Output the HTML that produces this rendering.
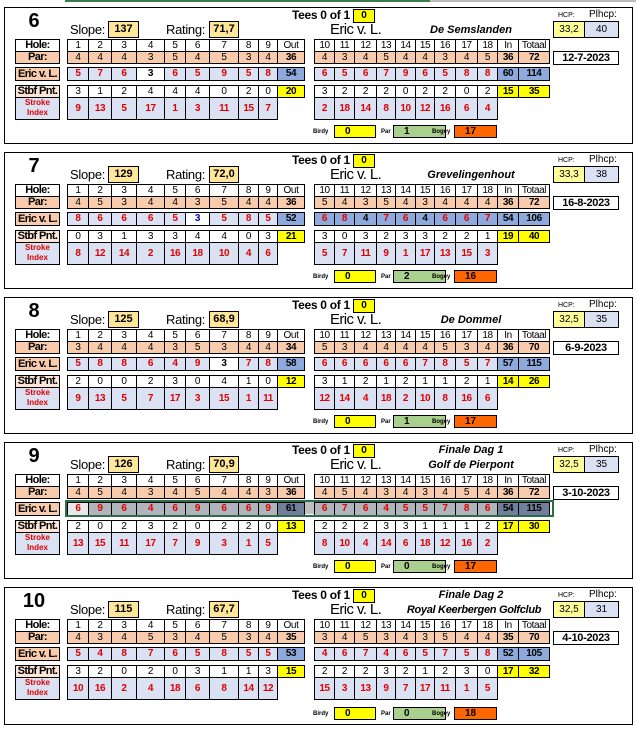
<!DOCTYPE html>
<html><head><meta charset="utf-8"><style>
body{margin:0;width:636px;height:734px;background:#fff;position:relative;overflow:hidden;font-family:"Liberation Sans",sans-serif;}
.b{position:absolute;left:4px;width:627px;height:135px;border:1px solid #000;}
.a{position:absolute;white-space:nowrap}
table{position:absolute;border-collapse:collapse;table-layout:fixed;font-size:10px;letter-spacing:-0.4px}
td{border:1px solid #000;text-align:center;padding:0;height:11px;line-height:11px;overflow:hidden;white-space:nowrap}
.p td{background:#f8cbad}
.e td{background:#d9e1f2;color:#e00000;font-weight:bold;height:12px;line-height:12px;font-size:10px}
.e.dk td{background:#8ea9db}
.e.gr td{background:#b0b4bc}
.s td{background:#fff}
.i td{background:#d9e1f2;color:#e00000;font-weight:bold;height:21px;font-size:10px}
td.w{background:#fff!important;color:#000!important}
td.bl{background:#fff!important;color:#0000cc!important}
td.k{color:#000!important}
td.t{background:#8ea9db!important;color:#000!important;font-weight:bold}
td.y{background:#ffff00!important;color:#000!important;font-weight:bold}
td.bo{font-weight:bold}
td.n{border:none;background:none!important}
.lab{position:absolute;left:10px;width:43px;border:1px solid #000;text-align:center;font-weight:bold;font-size:11px;letter-spacing:-0.6px;white-space:nowrap;overflow:hidden}
.num{left:14px;top:2px;width:30px;text-align:center;font-size:20px;font-weight:bold}
.sl{font-size:13px;top:13px;line-height:17px;letter-spacing:-0.3px}
.bx{border:1px solid #000;background:#ffe699;text-align:center;font-size:11px;font-weight:bold;height:15px;line-height:15px}
.tees{left:287px;top:1px;font-size:12px;font-weight:bold;line-height:13px;letter-spacing:-0.3px}
.zero{left:348px;top:1px;width:20px;height:12px;line-height:12px;background:#ff0;border:1px solid #000;text-align:center;font-size:10px;font-weight:bold}
.nm{left:325px;top:13px;font-size:15px;line-height:17px;letter-spacing:-0.6px}
.cr{font-style:italic;font-weight:bold;font-size:11px;width:200px;text-align:center;left:366px;line-height:14px}
.hl{font-size:7px}
.hcp{left:548px;top:13px;width:30px;height:15px;line-height:15px;border:1px solid #000;background:#ffff99;text-align:center;font-size:10px}
.pl{left:579px;top:13px;width:33px;height:15px;line-height:15px;border:1px solid #000;background:#d9e1f2;text-align:center;font-size:10px}
.dt{left:548px;top:43px;width:64px;height:12px;line-height:12px;border:1px solid #000;text-align:center;font-size:11px;font-weight:bold;letter-spacing:-0.3px}
.sm{font-size:6px;font-weight:bold;top:121px}
.cb{top:117px;height:11px;line-height:11px;border:1px solid #000;font-size:10px;font-weight:bold;padding-left:10px;box-sizing:content-box}
</style></head><body>
<div class="a" style="left:65px;top:0;width:365px;height:2px;background:#3b7a4a"></div>
<div class="a" style="left:430px;top:0;width:206px;height:2px;background:#bbb"></div>

<!-- BLOCK 6 -->
<div class="b" style="top:7px">
<div class="a num">6</div>
<div class="a sl" style="left:65px">Slope:</div><div class="a bx" style="left:103px;top:13px;width:29px">137</div>
<div class="a sl" style="left:161px">Rating:</div><div class="a bx" style="left:204px;top:13px;width:28px">71,7</div>
<div class="a tees">Tees 0 of 1</div><div class="a zero">0</div>
<div class="a nm">Eric v. L.</div>
<div class="a cr" style="top:15px">De Semslanden</div>
<div class="a hl" style="left:553px;top:4px">HCP:</div><div class="a" style="left:584px;top:1px;font-size:10px">Plhcp:</div>
<div class="a hcp">33,2</div><div class="a pl">40</div><div class="a dt">12-7-2023</div>
<div class="lab" style="top:31px;height:11px;line-height:11px">Hole:</div>
<div class="lab" style="top:43px;height:11px;line-height:11px;background:#f8cbad">Par:</div>
<div class="lab" style="top:59px;height:12px;line-height:12px;background:#f8cbad">Eric v. L.</div>
<div class="lab" style="top:77px;height:11px;line-height:11px;background:#fbe5d6">Stbf Pnt.</div>
<div class="lab" style="top:89px;height:21px;line-height:10px;background:#d9e1f2;color:#e00000;font-size:8px;letter-spacing:0">Stroke<br>Index</div>
<table style="left:62px;top:31px;width:237px"><colgroup><col style="width:21px"><col style="width:23px"><col style="width:25px"><col style="width:28px"><col style="width:21px"><col style="width:24px"><col style="width:29px"><col style="width:20px"><col style="width:19px"><col style="width:27px"></colgroup>
<tr><td>1</td><td>2</td><td>3</td><td>4</td><td>5</td><td>6</td><td>7</td><td>8</td><td>9</td><td>Out</td></tr>
<tr class="p"><td>4</td><td>4</td><td>4</td><td>3</td><td>5</td><td>4</td><td>5</td><td>3</td><td>4</td><td class="bo">36</td></tr></table>
<table style="left:309px;top:31px;width:235px"><colgroup><col style="width:20px"><col style="width:20px"><col style="width:22px"><col style="width:19px"><col style="width:20px"><col style="width:19px"><col style="width:21px"><col style="width:22px"><col style="width:20px"><col style="width:21px"><col style="width:31px"></colgroup>
<tr><td>10</td><td>11</td><td>12</td><td>13</td><td>14</td><td>15</td><td>16</td><td>17</td><td>18</td><td>In</td><td>Totaal</td></tr>
<tr class="p"><td>4</td><td>3</td><td>4</td><td>5</td><td>4</td><td>4</td><td>3</td><td>4</td><td>5</td><td class="bo">36</td><td class="bo">72</td></tr></table>
<table class="e" style="left:62px;top:59px;width:237px"><colgroup><col style="width:21px"><col style="width:23px"><col style="width:25px"><col style="width:28px"><col style="width:21px"><col style="width:24px"><col style="width:29px"><col style="width:20px"><col style="width:19px"><col style="width:27px"></colgroup>
<tr><td>5</td><td>7</td><td>6</td><td class="w">3</td><td>6</td><td>5</td><td>9</td><td>5</td><td>8</td><td class="t">54</td></tr></table>
<table class="e" style="left:309px;top:59px;width:235px"><colgroup><col style="width:20px"><col style="width:20px"><col style="width:22px"><col style="width:19px"><col style="width:20px"><col style="width:19px"><col style="width:21px"><col style="width:22px"><col style="width:20px"><col style="width:21px"><col style="width:31px"></colgroup>
<tr><td>6</td><td>5</td><td>6</td><td>7</td><td>9</td><td>6</td><td>5</td><td>8</td><td>8</td><td class="t">60</td><td class="t">114</td></tr></table>
<table style="left:62px;top:77px;width:237px"><colgroup><col style="width:21px"><col style="width:23px"><col style="width:25px"><col style="width:28px"><col style="width:21px"><col style="width:24px"><col style="width:29px"><col style="width:20px"><col style="width:19px"><col style="width:27px"></colgroup>
<tr class="s"><td>3</td><td>1</td><td>2</td><td>4</td><td>4</td><td>4</td><td>0</td><td>2</td><td>0</td><td class="y">20</td></tr>
<tr class="i"><td>9</td><td>13</td><td>5</td><td>17</td><td>1</td><td>3</td><td>11</td><td>15</td><td>7</td><td class="n"></td></tr></table>
<table style="left:309px;top:77px;width:235px"><colgroup><col style="width:20px"><col style="width:20px"><col style="width:22px"><col style="width:19px"><col style="width:20px"><col style="width:19px"><col style="width:21px"><col style="width:22px"><col style="width:20px"><col style="width:21px"><col style="width:31px"></colgroup>
<tr class="s"><td>3</td><td>2</td><td>2</td><td>2</td><td>0</td><td>2</td><td>2</td><td>0</td><td>2</td><td class="y">15</td><td class="y">35</td></tr>
<tr class="i"><td>2</td><td>18</td><td>14</td><td>8</td><td>10</td><td>12</td><td>16</td><td>6</td><td>4</td><td class="n"></td><td class="n"></td></tr></table>
<div class="a sm" style="left:308px">Birdy</div><div class="a cb" style="left:329px;width:30px;background:#ff0">0</div>
<div class="a sm" style="left:376px">Par</div><div class="a cb" style="left:388px;width:41px;background:#a9d08e">1</div>
<div class="a sm" style="left:427px">Bogey</div><div class="a cb" style="left:449px;width:31px;background:#ff6600">17</div>
</div>

<!-- BLOCK 7 -->
<div class="b" style="top:152px">
<div class="a num">7</div>
<div class="a sl" style="left:65px">Slope:</div><div class="a bx" style="left:103px;top:13px;width:29px">129</div>
<div class="a sl" style="left:161px">Rating:</div><div class="a bx" style="left:204px;top:13px;width:28px">72,0</div>
<div class="a tees">Tees 0 of 1</div><div class="a zero">0</div>
<div class="a nm">Eric v. L.</div>
<div class="a cr" style="top:15px">Grevelingenhout</div>
<div class="a hl" style="left:553px;top:4px">HCP:</div><div class="a" style="left:584px;top:1px;font-size:10px">Plhcp:</div>
<div class="a hcp">33,3</div><div class="a pl">38</div><div class="a dt">16-8-2023</div>
<div class="lab" style="top:31px;height:11px;line-height:11px">Hole:</div>
<div class="lab" style="top:43px;height:11px;line-height:11px;background:#f8cbad">Par:</div>
<div class="lab" style="top:59px;height:12px;line-height:12px;background:#f8cbad">Eric v. L.</div>
<div class="lab" style="top:77px;height:11px;line-height:11px;background:#fbe5d6">Stbf Pnt.</div>
<div class="lab" style="top:89px;height:21px;line-height:10px;background:#d9e1f2;color:#e00000;font-size:8px;letter-spacing:0">Stroke<br>Index</div>
<table style="left:62px;top:31px;width:237px"><colgroup><col style="width:21px"><col style="width:23px"><col style="width:25px"><col style="width:28px"><col style="width:21px"><col style="width:24px"><col style="width:29px"><col style="width:20px"><col style="width:19px"><col style="width:27px"></colgroup>
<tr><td>1</td><td>2</td><td>3</td><td>4</td><td>5</td><td>6</td><td>7</td><td>8</td><td>9</td><td>Out</td></tr>
<tr class="p"><td>4</td><td>5</td><td>3</td><td>4</td><td>4</td><td>3</td><td>5</td><td>4</td><td>4</td><td class="bo">36</td></tr></table>
<table style="left:309px;top:31px;width:235px"><colgroup><col style="width:20px"><col style="width:20px"><col style="width:22px"><col style="width:19px"><col style="width:20px"><col style="width:19px"><col style="width:21px"><col style="width:22px"><col style="width:20px"><col style="width:21px"><col style="width:31px"></colgroup>
<tr><td>10</td><td>11</td><td>12</td><td>13</td><td>14</td><td>15</td><td>16</td><td>17</td><td>18</td><td>In</td><td>Totaal</td></tr>
<tr class="p"><td>5</td><td>4</td><td>3</td><td>5</td><td>4</td><td>3</td><td>4</td><td>4</td><td>4</td><td class="bo">36</td><td class="bo">72</td></tr></table>
<table class="e" style="left:62px;top:59px;width:237px"><colgroup><col style="width:21px"><col style="width:23px"><col style="width:25px"><col style="width:28px"><col style="width:21px"><col style="width:24px"><col style="width:29px"><col style="width:20px"><col style="width:19px"><col style="width:27px"></colgroup>
<tr><td>8</td><td>6</td><td>6</td><td>6</td><td>5</td><td class="bl">3</td><td>5</td><td>8</td><td>5</td><td class="t">52</td></tr></table>
<table class="e dk" style="left:309px;top:59px;width:235px"><colgroup><col style="width:20px"><col style="width:20px"><col style="width:22px"><col style="width:19px"><col style="width:20px"><col style="width:19px"><col style="width:21px"><col style="width:22px"><col style="width:20px"><col style="width:21px"><col style="width:31px"></colgroup>
<tr><td>6</td><td>8</td><td class="k">4</td><td>7</td><td>6</td><td class="k">4</td><td>6</td><td>6</td><td>7</td><td class="t">54</td><td class="t">106</td></tr></table>
<table style="left:62px;top:77px;width:237px"><colgroup><col style="width:21px"><col style="width:23px"><col style="width:25px"><col style="width:28px"><col style="width:21px"><col style="width:24px"><col style="width:29px"><col style="width:20px"><col style="width:19px"><col style="width:27px"></colgroup>
<tr class="s"><td>0</td><td>3</td><td>1</td><td>3</td><td>3</td><td>4</td><td>4</td><td>0</td><td>3</td><td class="y">21</td></tr>
<tr class="i"><td>8</td><td>12</td><td>14</td><td>2</td><td>16</td><td>18</td><td>10</td><td>4</td><td>6</td><td class="n"></td></tr></table>
<table style="left:309px;top:77px;width:235px"><colgroup><col style="width:20px"><col style="width:20px"><col style="width:22px"><col style="width:19px"><col style="width:20px"><col style="width:19px"><col style="width:21px"><col style="width:22px"><col style="width:20px"><col style="width:21px"><col style="width:31px"></colgroup>
<tr class="s"><td>3</td><td>0</td><td>3</td><td>2</td><td>3</td><td>3</td><td>2</td><td>2</td><td>1</td><td class="y">19</td><td class="y">40</td></tr>
<tr class="i"><td>5</td><td>7</td><td>11</td><td>9</td><td>1</td><td>17</td><td>13</td><td>15</td><td>3</td><td class="n"></td><td class="n"></td></tr></table>
<div class="a sm" style="left:308px">Birdy</div><div class="a cb" style="left:329px;width:30px;background:#ff0">0</div>
<div class="a sm" style="left:376px">Par</div><div class="a cb" style="left:388px;width:41px;background:#a9d08e">2</div>
<div class="a sm" style="left:427px">Bogey</div><div class="a cb" style="left:449px;width:31px;background:#ff6600">16</div>
</div>

<!-- BLOCK 8 -->
<div class="b" style="top:297px">
<div class="a num">8</div>
<div class="a sl" style="left:65px">Slope:</div><div class="a bx" style="left:103px;top:13px;width:29px">125</div>
<div class="a sl" style="left:161px">Rating:</div><div class="a bx" style="left:204px;top:13px;width:28px">68,9</div>
<div class="a tees">Tees 0 of 1</div><div class="a zero">0</div>
<div class="a nm">Eric v. L.</div>
<div class="a cr" style="top:15px">De Dommel</div>
<div class="a hl" style="left:553px;top:4px">HCP:</div><div class="a" style="left:584px;top:1px;font-size:10px">Plhcp:</div>
<div class="a hcp">32,5</div><div class="a pl">35</div><div class="a dt">6-9-2023</div>
<div class="lab" style="top:31px;height:11px;line-height:11px">Hole:</div>
<div class="lab" style="top:43px;height:11px;line-height:11px;background:#f8cbad">Par:</div>
<div class="lab" style="top:59px;height:12px;line-height:12px;background:#f8cbad">Eric v. L.</div>
<div class="lab" style="top:77px;height:11px;line-height:11px;background:#fbe5d6">Stbf Pnt.</div>
<div class="lab" style="top:89px;height:21px;line-height:10px;background:#d9e1f2;color:#e00000;font-size:8px;letter-spacing:0">Stroke<br>Index</div>
<table style="left:62px;top:31px;width:237px"><colgroup><col style="width:21px"><col style="width:23px"><col style="width:25px"><col style="width:28px"><col style="width:21px"><col style="width:24px"><col style="width:29px"><col style="width:20px"><col style="width:19px"><col style="width:27px"></colgroup>
<tr><td>1</td><td>2</td><td>3</td><td>4</td><td>5</td><td>6</td><td>7</td><td>8</td><td>9</td><td>Out</td></tr>
<tr class="p"><td>3</td><td>4</td><td>4</td><td>4</td><td>3</td><td>5</td><td>3</td><td>4</td><td>4</td><td class="bo">34</td></tr></table>
<table style="left:309px;top:31px;width:235px"><colgroup><col style="width:20px"><col style="width:20px"><col style="width:22px"><col style="width:19px"><col style="width:20px"><col style="width:19px"><col style="width:21px"><col style="width:22px"><col style="width:20px"><col style="width:21px"><col style="width:31px"></colgroup>
<tr><td>10</td><td>11</td><td>12</td><td>13</td><td>14</td><td>15</td><td>16</td><td>17</td><td>18</td><td>In</td><td>Totaal</td></tr>
<tr class="p"><td>5</td><td>3</td><td>4</td><td>4</td><td>4</td><td>4</td><td>5</td><td>3</td><td>4</td><td class="bo">36</td><td class="bo">70</td></tr></table>
<table class="e" style="left:62px;top:59px;width:237px"><colgroup><col style="width:21px"><col style="width:23px"><col style="width:25px"><col style="width:28px"><col style="width:21px"><col style="width:24px"><col style="width:29px"><col style="width:20px"><col style="width:19px"><col style="width:27px"></colgroup>
<tr><td>5</td><td>8</td><td>8</td><td>6</td><td>4</td><td>9</td><td class="w">3</td><td>7</td><td>8</td><td class="t">58</td></tr></table>
<table class="e" style="left:309px;top:59px;width:235px"><colgroup><col style="width:20px"><col style="width:20px"><col style="width:22px"><col style="width:19px"><col style="width:20px"><col style="width:19px"><col style="width:21px"><col style="width:22px"><col style="width:20px"><col style="width:21px"><col style="width:31px"></colgroup>
<tr><td>6</td><td>6</td><td>6</td><td>6</td><td>6</td><td>7</td><td>8</td><td>5</td><td>7</td><td class="t">57</td><td class="t">115</td></tr></table>
<table style="left:62px;top:77px;width:237px"><colgroup><col style="width:21px"><col style="width:23px"><col style="width:25px"><col style="width:28px"><col style="width:21px"><col style="width:24px"><col style="width:29px"><col style="width:20px"><col style="width:19px"><col style="width:27px"></colgroup>
<tr class="s"><td>2</td><td>0</td><td>0</td><td>2</td><td>3</td><td>0</td><td>4</td><td>1</td><td>0</td><td class="y">12</td></tr>
<tr class="i"><td>9</td><td>13</td><td>5</td><td>7</td><td>17</td><td>3</td><td>15</td><td>1</td><td>11</td><td class="n"></td></tr></table>
<table style="left:309px;top:77px;width:235px"><colgroup><col style="width:20px"><col style="width:20px"><col style="width:22px"><col style="width:19px"><col style="width:20px"><col style="width:19px"><col style="width:21px"><col style="width:22px"><col style="width:20px"><col style="width:21px"><col style="width:31px"></colgroup>
<tr class="s"><td>3</td><td>1</td><td>2</td><td>1</td><td>2</td><td>1</td><td>1</td><td>2</td><td>1</td><td class="y">14</td><td class="y">26</td></tr>
<tr class="i"><td>12</td><td>14</td><td>4</td><td>18</td><td>2</td><td>10</td><td>8</td><td>16</td><td>6</td><td class="n"></td><td class="n"></td></tr></table>
<div class="a sm" style="left:308px">Birdy</div><div class="a cb" style="left:329px;width:30px;background:#ff0">0</div>
<div class="a sm" style="left:376px">Par</div><div class="a cb" style="left:388px;width:41px;background:#a9d08e">1</div>
<div class="a sm" style="left:427px">Bogey</div><div class="a cb" style="left:449px;width:31px;background:#ff6600">17</div>
</div>

<!-- BLOCK 9 -->
<div class="b" style="top:442px">
<div class="a num">9</div>
<div class="a sl" style="left:65px">Slope:</div><div class="a bx" style="left:103px;top:13px;width:29px">126</div>
<div class="a sl" style="left:161px">Rating:</div><div class="a bx" style="left:204px;top:13px;width:28px">70,9</div>
<div class="a tees">Tees 0 of 1</div><div class="a zero">0</div>
<div class="a nm">Eric v. L.</div>
<div class="a cr" style="top:0px">Finale Dag 1</div>
<div class="a cr" style="top:15px">Golf de Pierpont</div>
<div class="a hl" style="left:553px;top:4px">HCP:</div><div class="a" style="left:584px;top:1px;font-size:10px">Plhcp:</div>
<div class="a hcp">32,5</div><div class="a pl">35</div><div class="a dt">3-10-2023</div>
<div class="lab" style="top:31px;height:11px;line-height:11px">Hole:</div>
<div class="lab" style="top:43px;height:11px;line-height:11px;background:#f8cbad">Par:</div>
<div class="lab" style="top:59px;height:12px;line-height:12px;background:#f8cbad">Eric v. L.</div>
<div class="lab" style="top:77px;height:11px;line-height:11px;background:#fbe5d6">Stbf Pnt.</div>
<div class="lab" style="top:89px;height:21px;line-height:10px;background:#d9e1f2;color:#e00000;font-size:8px;letter-spacing:0">Stroke<br>Index</div>
<table style="left:62px;top:31px;width:237px"><colgroup><col style="width:21px"><col style="width:23px"><col style="width:25px"><col style="width:28px"><col style="width:21px"><col style="width:24px"><col style="width:29px"><col style="width:20px"><col style="width:19px"><col style="width:27px"></colgroup>
<tr><td>1</td><td>2</td><td>3</td><td>4</td><td>5</td><td>6</td><td>7</td><td>8</td><td>9</td><td>Out</td></tr>
<tr class="p"><td>4</td><td>5</td><td>4</td><td>3</td><td>4</td><td>5</td><td>4</td><td>4</td><td>3</td><td class="bo">36</td></tr></table>
<table style="left:309px;top:31px;width:235px"><colgroup><col style="width:20px"><col style="width:20px"><col style="width:22px"><col style="width:19px"><col style="width:20px"><col style="width:19px"><col style="width:21px"><col style="width:22px"><col style="width:20px"><col style="width:21px"><col style="width:31px"></colgroup>
<tr><td>10</td><td>11</td><td>12</td><td>13</td><td>14</td><td>15</td><td>16</td><td>17</td><td>18</td><td>In</td><td>Totaal</td></tr>
<tr class="p"><td>4</td><td>5</td><td>4</td><td>3</td><td>4</td><td>3</td><td>4</td><td>5</td><td>4</td><td class="bo">36</td><td class="bo">72</td></tr></table>
<div class="a" style="left:61px;top:58px;width:484px;height:13px;background:#c0c0c0"></div>
<table class="e gr" style="left:62px;top:59px;width:237px"><colgroup><col style="width:21px"><col style="width:23px"><col style="width:25px"><col style="width:28px"><col style="width:21px"><col style="width:24px"><col style="width:29px"><col style="width:20px"><col style="width:19px"><col style="width:27px"></colgroup>
<tr><td style="background:#e6e8ec">6</td><td>9</td><td>6</td><td>4</td><td>6</td><td>9</td><td>6</td><td>6</td><td>9</td><td class="t" style="background:#6f7f9c!important">61</td></tr></table>
<table class="e gr" style="left:309px;top:59px;width:235px"><colgroup><col style="width:20px"><col style="width:20px"><col style="width:22px"><col style="width:19px"><col style="width:20px"><col style="width:19px"><col style="width:21px"><col style="width:22px"><col style="width:20px"><col style="width:21px"><col style="width:31px"></colgroup>
<tr><td>6</td><td>7</td><td>6</td><td>4</td><td>5</td><td>5</td><td>7</td><td>8</td><td>6</td><td class="t" style="background:#6f7f9c!important">54</td><td class="t" style="background:#6f7f9c!important">115</td></tr></table>
<div class="a" style="left:60px;top:57px;width:485px;height:13px;border:2px solid #2e6b4a"></div>
<table style="left:62px;top:77px;width:237px"><colgroup><col style="width:21px"><col style="width:23px"><col style="width:25px"><col style="width:28px"><col style="width:21px"><col style="width:24px"><col style="width:29px"><col style="width:20px"><col style="width:19px"><col style="width:27px"></colgroup>
<tr class="s"><td>2</td><td>0</td><td>2</td><td>3</td><td>2</td><td>0</td><td>2</td><td>2</td><td>0</td><td class="y">13</td></tr>
<tr class="i"><td>13</td><td>15</td><td>11</td><td>17</td><td>7</td><td>9</td><td>3</td><td>1</td><td>5</td><td class="n"></td></tr></table>
<table style="left:309px;top:77px;width:235px"><colgroup><col style="width:20px"><col style="width:20px"><col style="width:22px"><col style="width:19px"><col style="width:20px"><col style="width:19px"><col style="width:21px"><col style="width:22px"><col style="width:20px"><col style="width:21px"><col style="width:31px"></colgroup>
<tr class="s"><td>2</td><td>2</td><td>2</td><td>3</td><td>3</td><td>1</td><td>1</td><td>1</td><td>2</td><td class="y">17</td><td class="y">30</td></tr>
<tr class="i"><td>8</td><td>10</td><td>4</td><td>14</td><td>6</td><td>18</td><td>12</td><td>16</td><td>2</td><td class="n"></td><td class="n"></td></tr></table>
<div class="a sm" style="left:308px">Birdy</div><div class="a cb" style="left:329px;width:30px;background:#ff0">0</div>
<div class="a sm" style="left:376px">Par</div><div class="a cb" style="left:388px;width:41px;background:#a9d08e">0</div>
<div class="a sm" style="left:427px">Bogey</div><div class="a cb" style="left:449px;width:31px;background:#ff6600">17</div>
</div>

<!-- BLOCK 10 -->
<div class="b" style="top:587px;height:136px">
<div class="a num">10</div>
<div class="a sl" style="left:65px">Slope:</div><div class="a bx" style="left:103px;top:13px;width:29px">115</div>
<div class="a sl" style="left:161px">Rating:</div><div class="a bx" style="left:204px;top:13px;width:28px">67,7</div>
<div class="a tees">Tees 0 of 1</div><div class="a zero">0</div>
<div class="a nm">Eric v. L.</div>
<div class="a cr" style="top:0px">Finale Dag 2</div>
<div class="a cr" style="top:15px;left:393px;width:152px;letter-spacing:-0.3px">Royal Keerbergen Golfclub</div>
<div class="a hl" style="left:553px;top:4px">HCP:</div><div class="a" style="left:584px;top:1px;font-size:10px">Plhcp:</div>
<div class="a hcp">32,5</div><div class="a pl">31</div><div class="a dt">4-10-2023</div>
<div class="lab" style="top:31px;height:11px;line-height:11px">Hole:</div>
<div class="lab" style="top:43px;height:11px;line-height:11px;background:#f8cbad">Par:</div>
<div class="lab" style="top:59px;height:12px;line-height:12px;background:#f8cbad">Eric v. L.</div>
<div class="lab" style="top:77px;height:11px;line-height:11px;background:#fbe5d6">Stbf Pnt.</div>
<div class="lab" style="top:89px;height:21px;line-height:10px;background:#d9e1f2;color:#e00000;font-size:8px;letter-spacing:0">Stroke<br>Index</div>
<table style="left:62px;top:31px;width:237px"><colgroup><col style="width:21px"><col style="width:23px"><col style="width:25px"><col style="width:28px"><col style="width:21px"><col style="width:24px"><col style="width:29px"><col style="width:20px"><col style="width:19px"><col style="width:27px"></colgroup>
<tr><td>1</td><td>2</td><td>3</td><td>4</td><td>5</td><td>6</td><td>7</td><td>8</td><td>9</td><td>Out</td></tr>
<tr class="p"><td>4</td><td>3</td><td>4</td><td>5</td><td>3</td><td>4</td><td>5</td><td>3</td><td>4</td><td class="bo">35</td></tr></table>
<table style="left:309px;top:31px;width:235px"><colgroup><col style="width:20px"><col style="width:20px"><col style="width:22px"><col style="width:19px"><col style="width:20px"><col style="width:19px"><col style="width:21px"><col style="width:22px"><col style="width:20px"><col style="width:21px"><col style="width:31px"></colgroup>
<tr><td>10</td><td>11</td><td>12</td><td>13</td><td>14</td><td>15</td><td>16</td><td>17</td><td>18</td><td>In</td><td>Totaal</td></tr>
<tr class="p"><td>3</td><td>4</td><td>5</td><td>3</td><td>4</td><td>3</td><td>5</td><td>4</td><td>4</td><td class="bo">35</td><td class="bo">70</td></tr></table>
<table class="e" style="left:62px;top:59px;width:237px"><colgroup><col style="width:21px"><col style="width:23px"><col style="width:25px"><col style="width:28px"><col style="width:21px"><col style="width:24px"><col style="width:29px"><col style="width:20px"><col style="width:19px"><col style="width:27px"></colgroup>
<tr><td>5</td><td>4</td><td>8</td><td>7</td><td>6</td><td>5</td><td>8</td><td>5</td><td>5</td><td class="t">53</td></tr></table>
<table class="e" style="left:309px;top:59px;width:235px"><colgroup><col style="width:20px"><col style="width:20px"><col style="width:22px"><col style="width:19px"><col style="width:20px"><col style="width:19px"><col style="width:21px"><col style="width:22px"><col style="width:20px"><col style="width:21px"><col style="width:31px"></colgroup>
<tr><td>4</td><td>6</td><td>7</td><td>4</td><td>6</td><td>5</td><td>7</td><td>5</td><td>8</td><td class="t">52</td><td class="t">105</td></tr></table>
<table style="left:62px;top:77px;width:237px"><colgroup><col style="width:21px"><col style="width:23px"><col style="width:25px"><col style="width:28px"><col style="width:21px"><col style="width:24px"><col style="width:29px"><col style="width:20px"><col style="width:19px"><col style="width:27px"></colgroup>
<tr class="s"><td>3</td><td>2</td><td>0</td><td>2</td><td>0</td><td>3</td><td>1</td><td>1</td><td>3</td><td class="y">15</td></tr>
<tr class="i"><td>10</td><td>16</td><td>2</td><td>4</td><td>18</td><td>6</td><td>8</td><td>14</td><td>12</td><td class="n"></td></tr></table>
<table style="left:309px;top:77px;width:235px"><colgroup><col style="width:20px"><col style="width:20px"><col style="width:22px"><col style="width:19px"><col style="width:20px"><col style="width:19px"><col style="width:21px"><col style="width:22px"><col style="width:20px"><col style="width:21px"><col style="width:31px"></colgroup>
<tr class="s"><td>2</td><td>2</td><td>2</td><td>3</td><td>2</td><td>1</td><td>2</td><td>3</td><td>0</td><td class="y">17</td><td class="y">32</td></tr>
<tr class="i"><td>15</td><td>3</td><td>13</td><td>9</td><td>7</td><td>17</td><td>11</td><td>1</td><td>5</td><td class="n"></td><td class="n"></td></tr></table>
<div class="a sm" style="left:308px;top:123px">Birdy</div><div class="a cb" style="left:329px;width:30px;background:#ff0;top:119px">0</div>
<div class="a sm" style="left:376px;top:123px">Par</div><div class="a cb" style="left:388px;width:41px;background:#a9d08e;top:119px">0</div>
<div class="a sm" style="left:427px;top:123px">Bogey</div><div class="a cb" style="left:449px;width:31px;background:#ff6600;top:119px">18</div>
</div>
</body></html>
